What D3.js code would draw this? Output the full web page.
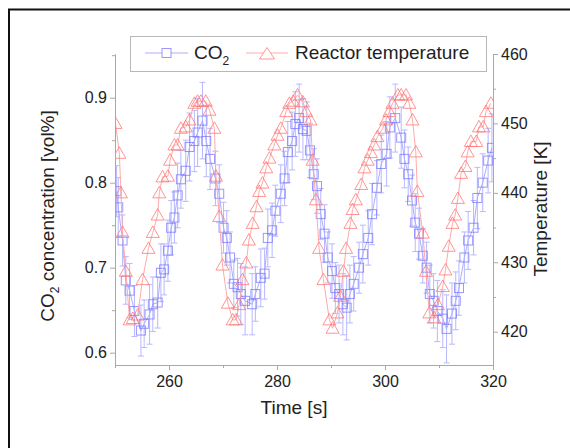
<!DOCTYPE html>
<html>
<head>
<meta charset="utf-8">
<script src="https://cdn.jsdelivr.net/npm/d3@7"></script>
<style>
  html, body { margin: 0; padding: 0; background: #fff; }
  text { font-family: "Liberation Sans", Arial, sans-serif; }
</style>
</head>
<body>
<div id="chart"></div>
<script>
// CO2 concentration (vol%) with error bars
var co2Time = [
  250.3, 250.6, 251.4, 252.0, 252.7, 253.6, 254.8, 255.4, 256.4, 257.0,
  257.9, 258.5, 259.1, 259.8, 260.4, 261.0, 261.6, 262.2, 263.1, 263.8,
  264.7, 265.3, 266.2, 266.9, 267.6, 268.6, 269.3, 270.1, 270.7, 271.3,
  272.0, 272.7, 273.3, 274.1, 275.4, 276.0, 277.0, 277.7, 278.3, 279.1,
  279.7, 280.7, 281.4, 282.0, 282.8, 283.4, 284.1, 284.8, 285.5, 286.1,
  286.8, 287.4, 288.1, 288.8, 289.4, 290.2, 290.8, 291.5, 292.2, 292.9,
  293.5, 294.2, 295.2, 295.9, 296.9, 297.6, 298.5, 299.3, 300.3, 300.9,
  301.9, 303.0, 303.6, 304.3, 305.0, 305.6, 306.3, 307.0, 307.7, 308.3,
  309.0, 309.7, 310.7, 311.4, 312.4, 313.1, 313.7, 314.7, 315.4, 316.4,
  317.1, 318.1, 319.1, 319.8
];
var co2Value = [
  0.790, 0.771, 0.732, 0.685, 0.673, 0.649, 0.626, 0.634, 0.645, 0.657,
  0.659, 0.694, 0.698, 0.720, 0.747, 0.759, 0.785, 0.804, 0.814, 0.842,
  0.849, 0.859, 0.873, 0.849, 0.828, 0.805, 0.787, 0.747, 0.735, 0.712,
  0.681, 0.677, 0.669, 0.661, 0.657, 0.669, 0.688, 0.693, 0.735, 0.744,
  0.767, 0.787, 0.805, 0.836, 0.849, 0.869, 0.876, 0.863, 0.861, 0.838,
  0.810, 0.796, 0.763, 0.740, 0.712, 0.696, 0.676, 0.669, 0.657, 0.653,
  0.669, 0.681, 0.700, 0.716, 0.735, 0.763, 0.794, 0.822, 0.834, 0.865,
  0.876, 0.853, 0.828, 0.810, 0.779, 0.753, 0.740, 0.714, 0.700, 0.669,
  0.661, 0.649, 0.640, 0.628, 0.646, 0.661, 0.676, 0.712, 0.732, 0.747,
  0.782, 0.800, 0.826, 0.841
];
var co2Error = [
  0.030, 0.035, 0.030, 0.028, 0.032, 0.030, 0.030, 0.028, 0.035, 0.032,
  0.030, 0.034, 0.030, 0.036, 0.032, 0.030, 0.038, 0.034, 0.036, 0.040,
  0.036, 0.040, 0.045, 0.042, 0.036, 0.032, 0.034, 0.030, 0.032, 0.030,
  0.028, 0.034, 0.036, 0.040, 0.036, 0.032, 0.034, 0.030, 0.034, 0.032,
  0.030, 0.034, 0.032, 0.036, 0.034, 0.038, 0.040, 0.036, 0.034, 0.032,
  0.030, 0.032, 0.030, 0.034, 0.030, 0.032, 0.030, 0.034, 0.036, 0.038,
  0.034, 0.032, 0.030, 0.034, 0.032, 0.036, 0.032, 0.034, 0.038, 0.036,
  0.040, 0.036, 0.034, 0.032, 0.030, 0.034, 0.030, 0.032, 0.030, 0.034,
  0.032, 0.036, 0.034, 0.040, 0.036, 0.034, 0.032, 0.030, 0.034, 0.032,
  0.036, 0.034, 0.038, 0.040
];

// reactor temperature (K)
var tempTime = [
  250.1, 250.8, 251.1, 251.4, 252.0, 252.7, 253.3, 254.2, 255.1, 256.2,
  257.0, 257.9, 258.2, 258.8, 259.8, 260.2, 261.0, 261.6, 262.2, 263.1,
  263.8, 264.7, 265.3, 265.9, 266.8, 267.5, 268.4, 268.7, 269.3, 269.9,
  270.9, 271.8, 272.4, 273.0, 273.6, 274.3, 274.8, 275.5, 276.2, 276.7,
  277.3, 278.0, 278.6, 279.5, 280.1, 280.7, 281.7, 282.3, 283.0, 283.8,
  284.8, 285.4, 286.2, 286.6, 287.2, 287.8, 288.6, 289.7, 290.3, 291.2,
  291.7, 292.3, 292.8, 293.6, 294.0, 294.6, 295.6, 296.2, 296.8, 297.4,
  298.0, 298.6, 299.6, 300.2, 300.8, 301.4, 302.4, 303.0, 303.9, 304.5,
  305.1, 305.7, 306.0, 307.0, 307.6, 308.2, 309.1, 309.8, 310.7, 311.2,
  311.8, 312.5, 313.0, 313.5, 314.1, 314.9, 315.3, 315.9, 316.9, 317.4,
  318.2, 318.7, 319.6
];
var tempValue = [
  450.0, 445.7, 440.0, 434.3, 428.7, 421.7, 421.9, 422.4, 427.5, 432.0,
  434.3, 436.8, 440.0, 442.3, 442.4, 444.7, 446.9, 446.9, 449.3, 449.5,
  450.5, 452.9, 453.2, 453.2, 453.2, 451.9, 449.3, 442.4, 436.6, 429.6,
  424.1, 421.7, 421.7, 423.9, 427.5, 429.9, 433.2, 435.6, 438.0, 440.2,
  441.4, 443.6, 445.0, 446.9, 448.3, 449.3, 451.7, 452.9, 453.2, 454.1,
  453.1, 451.7, 450.5, 444.7, 439.0, 432.0, 427.5, 421.7, 420.5, 422.7,
  425.1, 428.7, 432.0, 435.6, 437.6, 439.0, 441.2, 443.6, 444.7, 445.8,
  446.9, 448.1, 449.3, 450.5, 451.7, 452.9, 454.1, 454.1, 454.1, 452.9,
  450.5, 445.9, 440.2, 434.2, 428.7, 422.7, 422.0, 423.9, 426.5, 428.9,
  432.3, 435.6, 436.8, 439.2, 442.8, 443.8, 445.9, 447.4, 447.4, 449.5,
  449.5, 451.7, 452.9
];

var xTicks = [260, 280, 300, 320];
var xMinor = [250, 270, 290, 310];
var co2Ticks = [0.6, 0.7, 0.8, 0.9];
var co2Minor = [0.65, 0.75, 0.85, 0.95];
var tempTicks = [420, 430, 440, 450, 460];
var tempMinor = [425, 435, 445, 455];

var legendLabels = ['CO', 'Reactor temperature'];

var width = 570, height = 448;
var plot = { left: 115, right: 493, top: 54, bottom: 365 };

var blue = '#7575ff';
var blueLight = '#adadff';
var red = '#ff7272';
var redLight = '#ffaaaa';
var axisColor = '#a8a8a8';
var textColor = '#222';

var svg = d3.select('#chart').append('svg')
  .attr('width', width)
  .attr('height', height);

svg.append('rect')
  .attr('width', width).attr('height', height)
  .attr('fill', '#fff');

// outer frame (only top and left edges fall inside the picture)
svg.append('rect')
  .attr('x', 9).attr('y', 9.5)
  .attr('width', 700).attr('height', 700)
  .attr('fill', 'none')
  .attr('stroke', '#111')
  .attr('stroke-width', 2);

var x = d3.scaleLinear().domain([250, 320]).range([plot.left, plot.right]);
var yCo2 = d3.scaleLinear().domain([0.5855, 0.9514]).range([plot.bottom, plot.top]);
var yTemp = d3.scaleLinear().domain([415.2, 460]).range([plot.bottom, plot.top]);

svg.append('clipPath').attr('id', 'plotClip')
  .append('rect')
  .attr('x', plot.left).attr('y', plot.top - 20)
  .attr('width', plot.right - plot.left)
  .attr('height', plot.bottom - plot.top + 20);

var co2Data = co2Time.map(function(t, i) {
  return { t: t, v: co2Value[i], e: co2Error[i] };
});
var tempData = tempTime.map(function(t, i) {
  return { t: t, v: tempValue[i] };
});

var g = svg.append('g').attr('clip-path', 'url(#plotClip)');

// error bars
var eb = g.append('g').attr('stroke', blueLight).attr('stroke-width', 1).attr('opacity', 0.85);
eb.selectAll('.bar')
  .data(co2Data).enter().append('line')
  .attr('x1', function(d) { return x(d.t); })
  .attr('x2', function(d) { return x(d.t); })
  .attr('y1', function(d) { return yCo2(d.v - d.e); })
  .attr('y2', function(d) { return yCo2(d.v + d.e); });
eb.selectAll('.capTop')
  .data(co2Data).enter().append('line')
  .attr('x1', function(d) { return x(d.t) - 3; })
  .attr('x2', function(d) { return x(d.t) + 3; })
  .attr('y1', function(d) { return yCo2(d.v + d.e); })
  .attr('y2', function(d) { return yCo2(d.v + d.e); });
eb.selectAll('.capBot')
  .data(co2Data).enter().append('line')
  .attr('x1', function(d) { return x(d.t) - 3; })
  .attr('x2', function(d) { return x(d.t) + 3; })
  .attr('y1', function(d) { return yCo2(d.v - d.e); })
  .attr('y2', function(d) { return yCo2(d.v - d.e); });

// CO2 line + squares
g.append('path')
  .datum(co2Data)
  .attr('fill', 'none')
  .attr('stroke', blueLight)
  .attr('stroke-width', 1)
  .attr('d', d3.line().x(function(d) { return x(d.t); }).y(function(d) { return yCo2(d.v); }));

g.selectAll('.sq')
  .data(co2Data).enter().append('rect')
  .attr('x', function(d) { return x(d.t) - 4.5; })
  .attr('y', function(d) { return yCo2(d.v) - 4.5; })
  .attr('width', 9).attr('height', 9)
  .attr('fill', 'none')
  .attr('stroke', blue)
  .attr('stroke-opacity', 0.75)
  .attr('stroke-width', 1);

// temperature line + triangles
g.append('path')
  .datum(tempData)
  .attr('fill', 'none')
  .attr('stroke', redLight)
  .attr('stroke-width', 1)
  .attr('d', d3.line().x(function(d) { return x(d.t); }).y(function(d) { return yTemp(d.v); }));

var tri = 'M0,-6.5L6.5,5L-6.5,5Z';
g.selectAll('.tri')
  .data(tempData).enter().append('path')
  .attr('d', tri)
  .attr('transform', function(d) { return 'translate(' + x(d.t) + ',' + yTemp(d.v) + ')'; })
  .attr('fill', 'none')
  .attr('stroke', red)
  .attr('stroke-opacity', 0.75)
  .attr('stroke-width', 1);

// axes
function styleAxis(sel) {
  sel.selectAll('.domain').attr('stroke', axisColor);
  sel.selectAll('.tick line').attr('stroke', axisColor);
  sel.selectAll('.tick text')
    .attr('fill', textColor)
    .style('font-family', '"Liberation Sans", Arial, sans-serif')
    .style('font-size', '16px');
}

var xAxis = svg.append('g')
  .attr('transform', 'translate(0,' + plot.bottom + ')')
  .call(d3.axisBottom(x).tickValues(xTicks).tickSize(5).tickSizeOuter(0).tickPadding(6).tickFormat(d3.format('d')));
styleAxis(xAxis);
var xAxisMinor = svg.append('g')
  .attr('transform', 'translate(0,' + plot.bottom + ')')
  .call(d3.axisBottom(x).tickValues(xMinor).tickSize(3).tickSizeOuter(0).tickFormat(''));
styleAxis(xAxisMinor);

var yAxis = svg.append('g')
  .attr('transform', 'translate(' + plot.left + ',0)')
  .call(d3.axisLeft(yCo2).tickValues(co2Ticks).tickSize(5).tickSizeOuter(0).tickPadding(3).tickFormat(d3.format('.1f')));
styleAxis(yAxis);
var yAxisMinor = svg.append('g')
  .attr('transform', 'translate(' + plot.left + ',0)')
  .call(d3.axisLeft(yCo2).tickValues(co2Minor).tickSize(3).tickSizeOuter(0).tickFormat(''));
styleAxis(yAxisMinor);

var y2Axis = svg.append('g')
  .attr('transform', 'translate(' + plot.right + ',0)')
  .call(d3.axisRight(yTemp).tickValues(tempTicks).tickSize(5).tickSizeOuter(0).tickPadding(3).tickFormat(d3.format('d')));
styleAxis(y2Axis);
var y2AxisMinor = svg.append('g')
  .attr('transform', 'translate(' + plot.right + ',0)')
  .call(d3.axisRight(yTemp).tickValues(tempMinor).tickSize(3).tickSizeOuter(0).tickFormat(''));
styleAxis(y2AxisMinor);

// axis titles
svg.append('text')
  .attr('x', 294).attr('y', 414)
  .attr('text-anchor', 'middle')
  .attr('font-size', '19px')
  .attr('fill', textColor)
  .text('Time [s]');

var leftTitle = svg.append('text')
  .attr('transform', 'translate(54,216) rotate(-90)')
  .attr('text-anchor', 'middle')
  .attr('font-size', '19px')
  .attr('fill', textColor);
leftTitle.append('tspan').text('CO');
leftTitle.append('tspan').attr('font-size', '12px').attr('dy', 5).text('2');
leftTitle.append('tspan').attr('dy', -5).text(' concentration [vol%]');

svg.append('text')
  .attr('transform', 'translate(547,209) rotate(-90)')
  .attr('text-anchor', 'middle')
  .attr('font-size', '19px')
  .attr('fill', textColor)
  .text('Temperature [K]');

// legend
var legend = svg.append('g');
legend.append('rect')
  .attr('x', 130.5).attr('y', 36.5)
  .attr('width', 356).attr('height', 35)
  .attr('fill', '#fff')
  .attr('stroke', '#b8b8b8')
  .attr('stroke-width', 1);

legend.append('line')
  .attr('x1', 145).attr('x2', 188).attr('y1', 53).attr('y2', 53)
  .attr('stroke', blueLight);
legend.append('rect')
  .attr('x', 162).attr('y', 48.5).attr('width', 9).attr('height', 9)
  .attr('fill', '#fff').attr('stroke', blue).attr('stroke-opacity', 0.75);
var coText = legend.append('text')
  .attr('x', 194).attr('y', 59)
  .attr('font-size', '19px')
  .attr('fill', textColor);
coText.append('tspan').text(legendLabels[0]);
coText.append('tspan').attr('font-size', '12px').attr('dy', 6).text('2');

legend.append('line')
  .attr('x1', 246).attr('x2', 288).attr('y1', 53).attr('y2', 53)
  .attr('stroke', redLight);
legend.append('path')
  .attr('d', 'M0,-6.5L7.5,5L-7.5,5Z')
  .attr('transform', 'translate(267,54)')
  .attr('fill', '#fff').attr('stroke', red).attr('stroke-opacity', 0.75);
legend.append('text')
  .attr('x', 295).attr('y', 59)
  .attr('font-size', '19px')
  .attr('fill', textColor)
  .text(legendLabels[1]);
</script>
</body>
</html>
